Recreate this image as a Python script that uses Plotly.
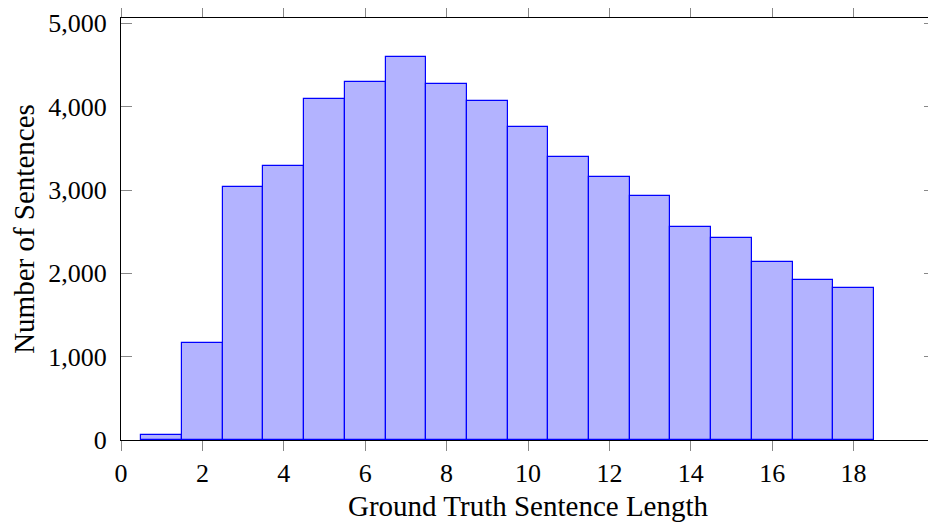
import plotly.graph_objects as go

lengths = list(range(1, 19))
counts = [65, 1168, 3040, 3292, 4096, 4292, 4600, 4276, 4072, 3760,
          3392, 3156, 2930, 2552, 2420, 2140, 1924, 1824]

x_ticks = [0, 2, 4, 6, 8, 10, 12, 14, 16, 18]
y_ticks = [0, 1000, 2000, 3000, 4000, 5000]
y_ticktext = ["0", "1,000", "2,000", "3,000", "4,000", "5,000"]

FONT = "Liberation Serif"
# the page body has an 8px margin, so the figure is offset by (8, 8)
OFF = 8

fig = go.Figure()
fig.add_trace(go.Bar(
    x=lengths, y=counts, width=1,
    marker=dict(color="#b3b3ff", line=dict(color="#0000ff", width=1.2)),
))

fig.update_layout(
    width=936 - OFF, height=522 - OFF,
    margin=dict(l=121 - OFF, r=1, t=18 - OFF, b=82, autoexpand=False),
    plot_bgcolor="white", paper_bgcolor="white",
    showlegend=False,
    font=dict(family=FONT, size=24, color="black"),
    bargap=0,
)
fig.update_xaxes(
    range=[0, 20], tickvals=x_ticks, automargin=False,
    showline=True, linecolor="black", linewidth=1, mirror="ticks",
    ticks="outside", ticklen=10, tickcolor="#888888", tickwidth=1,
    tickfont=dict(family=FONT, size=26, color="black"),
    showgrid=False, zeroline=False,
    title=dict(text="Ground Truth Sentence Length", standoff=9,
               font=dict(family=FONT, size=29, color="black")),
)
fig.update_yaxes(
    range=[0, 5064], tickvals=y_ticks, ticktext=y_ticktext, automargin=False,
    showline=True, linecolor="black", linewidth=1, mirror="ticks",
    ticks="inside", ticklen=11, tickcolor="#888888", tickwidth=1,
    ticklabelstandoff=8,
    tickfont=dict(family=FONT, size=26, color="black"),
    showgrid=False, zeroline=False,
    title=dict(text="Number of Sentences", standoff=13,
               font=dict(family=FONT, size=29, color="black")),
)

fig.write_html("out.html")
